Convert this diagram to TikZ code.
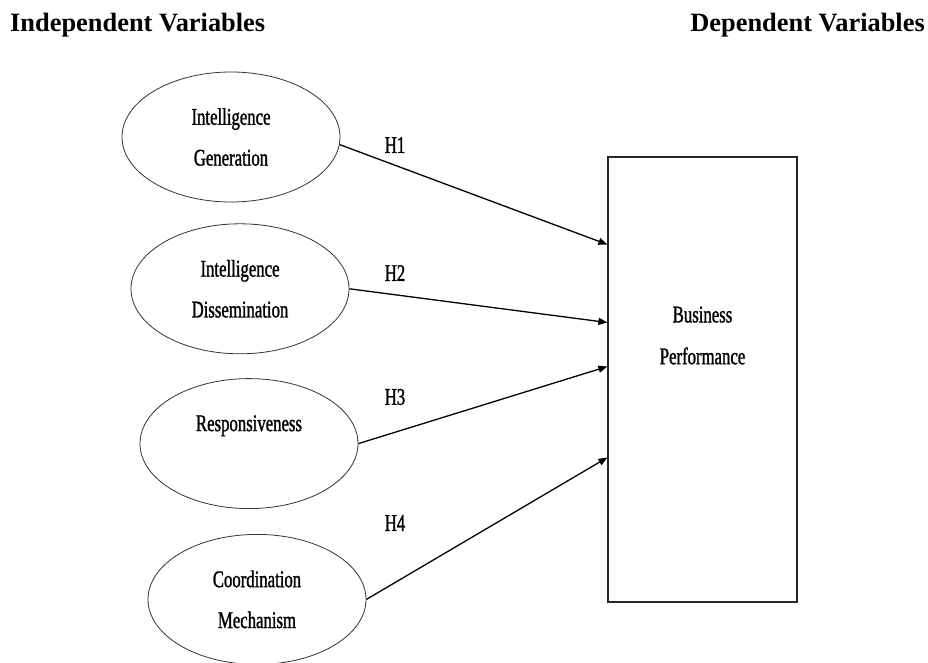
\documentclass[tikz,border=0pt]{standalone}
\usepackage{fontspec}
\setmainfont{Liberation Serif}
\newfontfamily\narrowserif[FakeStretch=0.7,FakeBold=1.2]{Liberation Serif}
\usetikzlibrary{arrows.meta,positioning,shapes.geometric}

\begin{document}
\begin{tikzpicture}[
  x=1bp, y=-1bp,
  var/.style={ellipse, draw=black!80, line width=0.8bp, inner sep=0pt,
              minimum width=218bp, minimum height=130bp, align=center,
              font=\narrowserif\fontsize{24}{41}\selectfont},
  outcome/.style={draw=black!85, line width=1.2bp, inner sep=0pt,
                  minimum width=189bp, minimum height=445bp},
  hyp/.style={font=\narrowserif\fontsize{24}{26}\selectfont},
  head/.style={font=\bfseries\fontsize{26.5}{30}\selectfont, inner sep=0pt},
  arr/.style={-{Triangle[length=9bp,width=7bp]}, line width=1.3bp}
]
\useasboundingbox (0,0) rectangle (928,663);

% headings
\node[head, anchor=base west] (indep) at (10,32) {Independent Variables};
\node[head, anchor=base east] (depend) at (925,32) {Dependent Variables};

% independent variables
\node[var] (ig) at (231,137) {Intelligence\\Generation};
\node[var, below=21bp of ig, xshift=9bp] (id) {Intelligence\\Dissemination};
\node[var, below=24bp of id, xshift=9bp] (resp) {Responsiveness\\\mbox{}};
\node[var, below=25bp of resp, xshift=8bp] (cm) {Coordination\\Mechanism};

% dependent variable
\node[outcome] (bp) at (702.5,379.5) {};
\node[align=center, font=\narrowserif\fontsize{24}{42}\selectfont]
  (bptext) at ([yshift=44bp]bp.center) {Business\\Performance};

% hypotheses
\draw[arr] (ig.-4) -- ([yshift=135bp]bp.west);
\draw[arr] (id.east) -- ([yshift=57bp]bp.west);
\draw[arr] (resp.east) -- ([yshift=13bp]bp.west);
\draw[arr] (cm.east) -- ([yshift=-78bp]bp.west);

\node[hyp] (h1) at (395,145) {H1};
\node[hyp] (h2) at (395,273) {H2};
\node[hyp] (h3) at (395,397) {H3};
\node[hyp] (h4) at (395,523) {H4};
\end{tikzpicture}
\end{document}
